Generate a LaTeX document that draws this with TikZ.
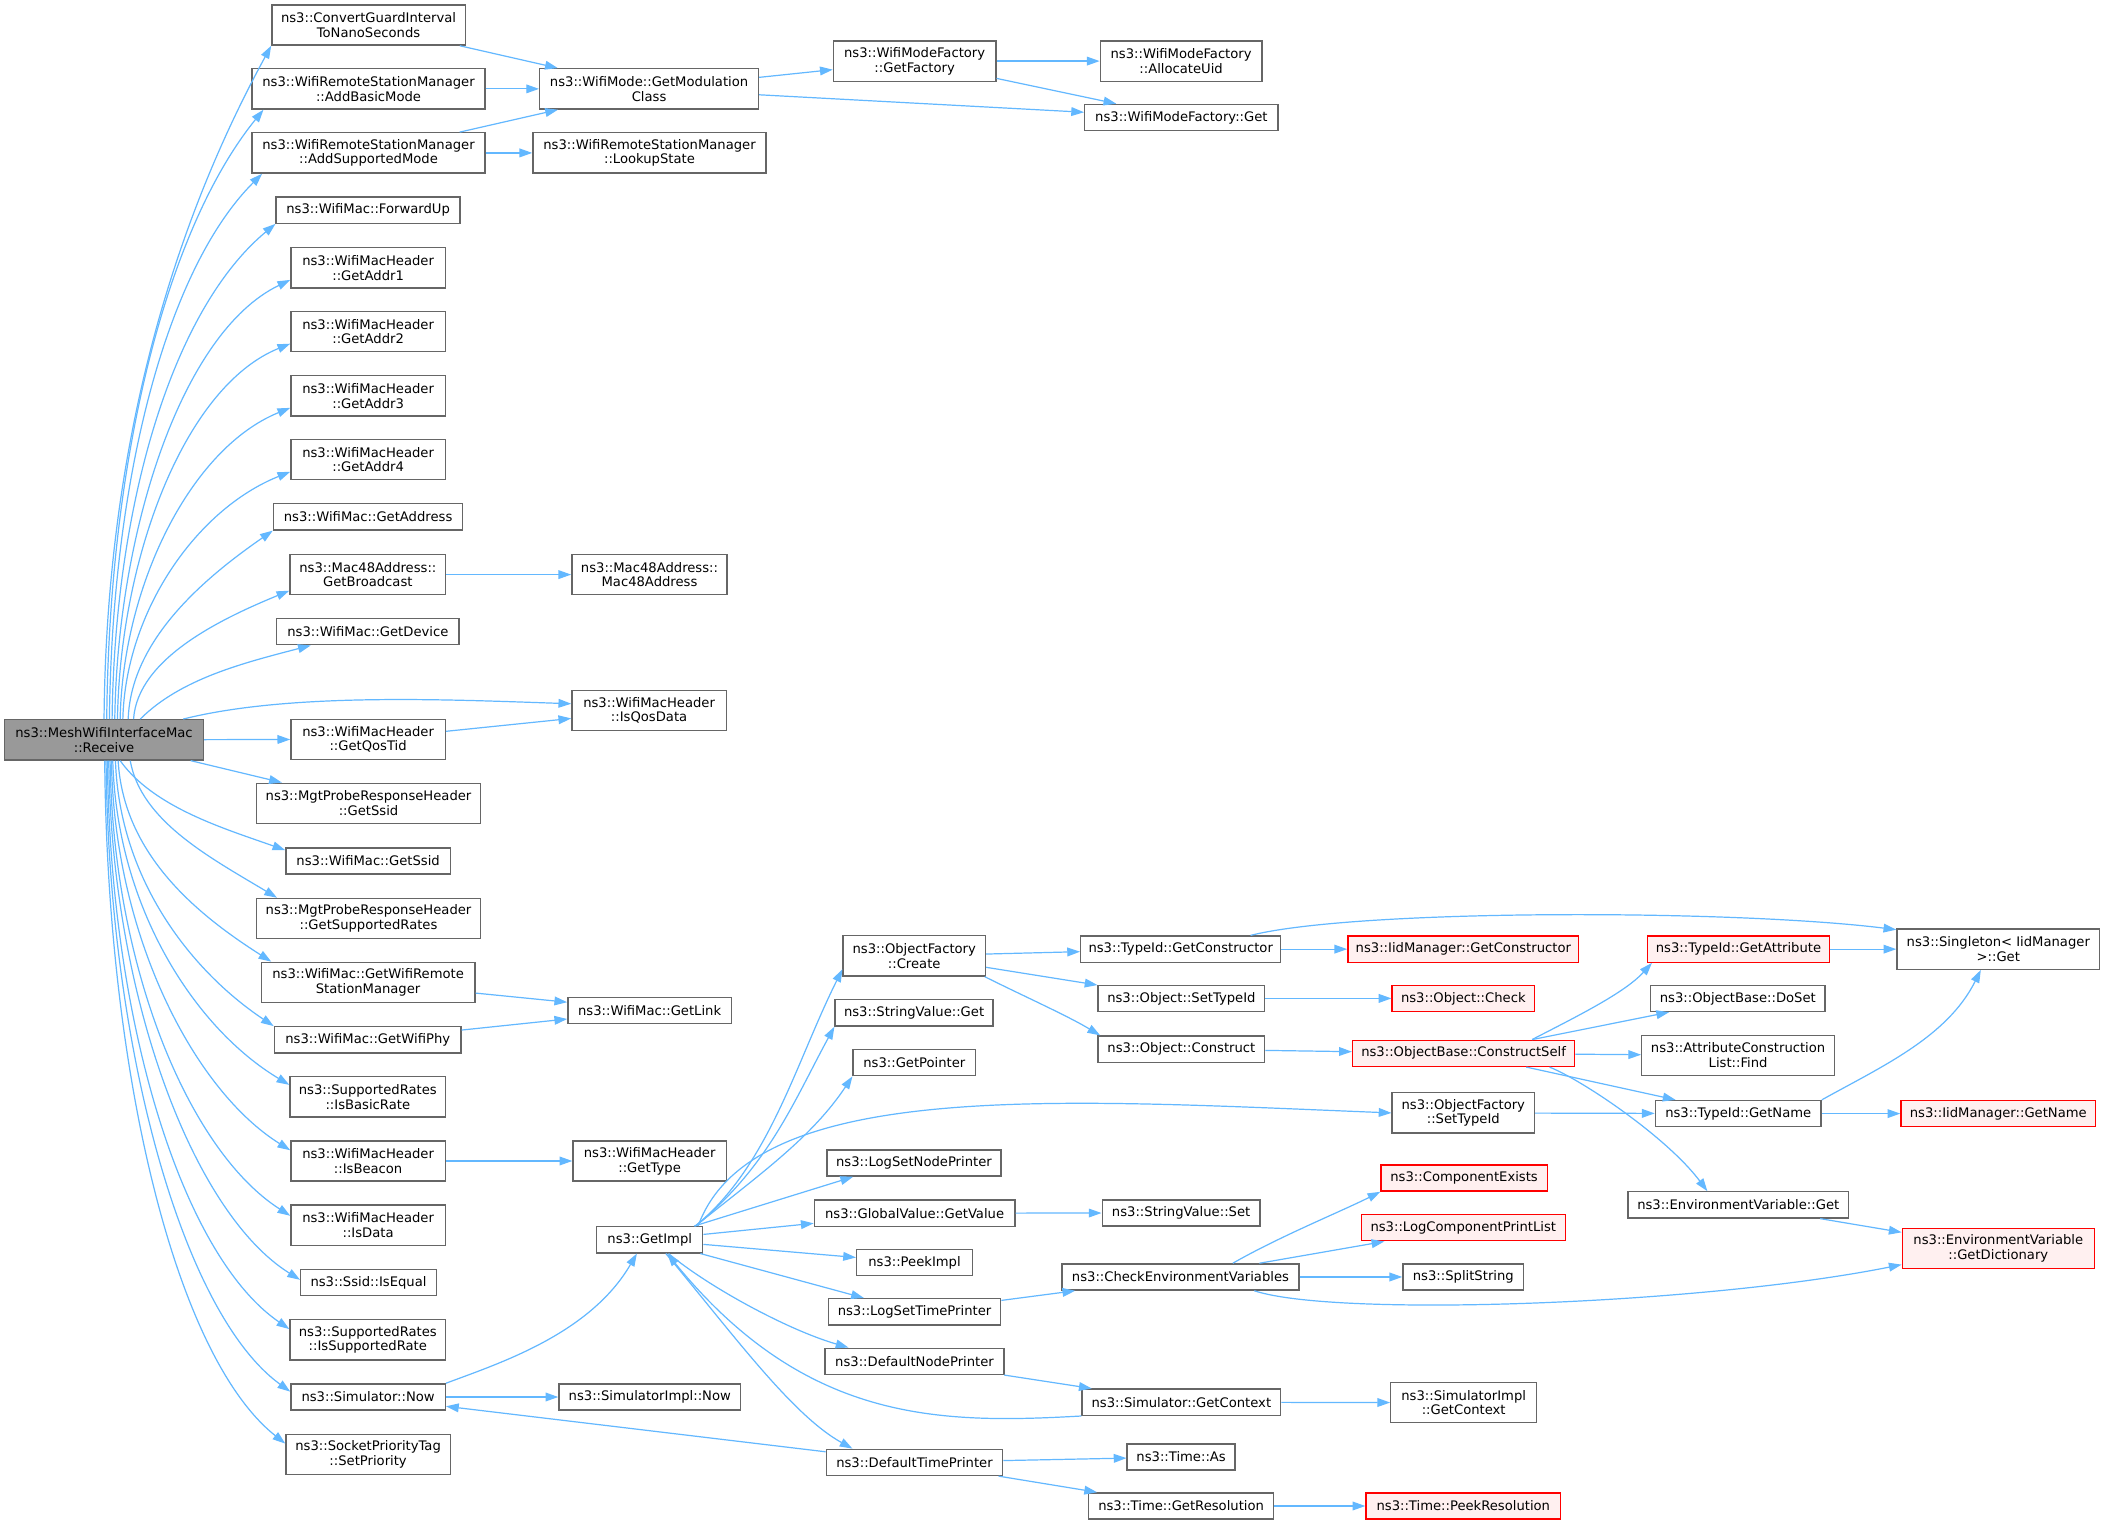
\documentclass[tikz,border=0pt]{standalone}
\usepackage{fontspec}
\setmainfont{DejaVu Sans}
\usetikzlibrary{arrows.meta}
\definecolor{edgeblue}{HTML}{63B8FF}
\definecolor{boxgray}{HTML}{666666}
\definecolor{rootgray}{HTML}{999999}
\definecolor{missfill}{HTML}{FFF0F0}
\begin{document}
\begin{tikzpicture}[x=1pt,y=1pt]
                \tikzstyle{every node}+=[inner sep=0pt]
                \tikzstyle{fn}=[draw=boxgray, fill=white, line width=1pt, align=center, font=\fontsize{9.8}{11}\selectfont, minimum height=19.5pt]
                \tikzstyle{fn2}=[fn, minimum height=30pt]
                \tikzstyle{root}=[fill=rootgray]
                \tikzstyle{nodoc}=[draw=red, fill=missfill]
                \tikzstyle{call}=[edgeblue, line width=0.9pt, -{Triangle[length=9.5pt,width=6.5pt]}]
                \fill [white] (0,0) rectangle (1568,-1136);
                \useasboundingbox (0,0) rectangle (1568,-1136);
                \node [fn2, root, minimum width=148pt] (rec) at (77.5,-551.1) {ns3::MeshWifiInterfaceMac\\::Receive};
                \node [fn2, minimum width=144pt] (cgi) at (274.5,-18.6) {ns3::ConvertGuardInterval\\ToNanoSeconds};
                \node [fn2, minimum width=173.5pt] (abm) at (274.5,-66.2) {ns3::WifiRemoteStationManager\\::AddBasicMode};
                \node [fn2, minimum width=173.5pt] (asm) at (274.5,-113.9) {ns3::WifiRemoteStationManager\\::AddSupportedMode};
                \node [fn, minimum width=137pt] (fwd) at (274.2,-156.5) {ns3::WifiMac::ForwardUp};
                \node [fn2, minimum width=115pt] (ad1) at (274.2,-199.5) {ns3::WifiMacHeader\\::GetAddr1};
                \node [fn2, minimum width=115pt] (ad2) at (274.2,-247) {ns3::WifiMacHeader\\::GetAddr2};
                \node [fn2, minimum width=115pt] (ad3) at (274.2,-294.8) {ns3::WifiMacHeader\\::GetAddr3};
                \node [fn2, minimum width=115pt] (ad4) at (274.2,-342.4) {ns3::WifiMacHeader\\::GetAddr4};
                \node [fn, minimum width=141pt] (gad) at (274.2,-385) {ns3::WifiMac::GetAddress};
                \node [fn2, minimum width=116pt] (gbc) at (274,-428) {ns3::Mac48Address::\\GetBroadcast};
                \node [fn, minimum width=136pt] (gdv) at (274,-470.5) {ns3::WifiMac::GetDevice};
                \node [fn2, minimum width=115pt] (gqt) at (274.2,-550.7) {ns3::WifiMacHeader\\::GetQosTid};
                \node [fn2, minimum width=167.3pt] (mss) at (274.5,-598.4) {ns3::MgtProbeResponseHeader\\::GetSsid};
                \node [fn, minimum width=122.4pt] (wss) at (274.2,-641.3) {ns3::WifiMac::GetSsid};
                \node [fn2, minimum width=167.3pt] (msr) at (274.5,-684.2) {ns3::MgtProbeResponseHeader\\::GetSupportedRates};
                \node [fn2, minimum width=159.3pt] (grm) at (274.2,-731.8) {ns3::WifiMac::GetWifiRemote\\StationManager};
                \node [fn, minimum width=139pt] (gwp) at (273.9,-774.6) {ns3::WifiMac::GetWifiPhy};
                \node [fn2, minimum width=116pt] (ibr) at (274,-817.1) {ns3::SupportedRates\\::IsBasicRate};
                \node [fn2, minimum width=115pt] (ibc) at (274.2,-864.8) {ns3::WifiMacHeader\\::IsBeacon};
                \node [fn2, minimum width=115pt] (idt) at (274.2,-912.6) {ns3::WifiMacHeader\\::IsData};
                \node [fn, minimum width=101pt] (ieq) at (274.5,-955.3) {ns3::Ssid::IsEqual};
                \node [fn2, minimum width=116pt] (isr) at (274,-998) {ns3::SupportedRates\\::IsSupportedRate};
                \node [fn, minimum width=115pt] (snw) at (274.2,-1040.6) {ns3::Simulator::Now};
                \node [fn2, minimum width=122.4pt] (spr) at (274.2,-1083.3) {ns3::SocketPriorityTag\\::SetPriority};
                \node [fn2, minimum width=163pt] (gmc) at (483.5,-66.2) {ns3::WifiMode::GetModulation\\Class};
                \node [fn2, minimum width=173.7pt] (lks) at (483.8,-113.9) {ns3::WifiRemoteStationManager\\::LookupState};
                \node [fn2, minimum width=115.7pt] (m48) at (483.8,-428) {ns3::Mac48Address::\\Mac48Address};
                \node [fn2, minimum width=115pt] (iqd) at (483.5,-529.2) {ns3::WifiMacHeader\\::IsQosData};
                \node [fn, minimum width=121.8pt] (gln) at (483.9,-752.6) {ns3::WifiMac::GetLink};
                \node [fn2, minimum width=114.2pt] (gty) at (483.9,-864.8) {ns3::WifiMacHeader\\::GetType};
                \node [fn, minimum width=79pt] (gim) at (484,-923.5) {ns3::GetImpl};
                \node [fn, minimum width=135.3pt] (sin) at (484,-1040.6) {ns3::SimulatorImpl::Now};
                \node [fn2, minimum width=121pt] (gfa) at (681.3,-45.5) {ns3::WifiModeFactory\\::GetFactory};
                \node [fn2, minimum width=106pt] (ocr) at (681,-712) {ns3::ObjectFactory\\::Create};
                \node [fn, minimum width=117.7pt] (svg) at (680.9,-754.5) {ns3::StringValue::Get};
                \node [fn, minimum width=91.2pt] (gpt) at (681.1,-791.5) {ns3::GetPointer};
                \node [fn, minimum width=129.6pt] (lsn) at (680.8,-866.3) {ns3::LogSetNodePrinter};
                \node [fn, minimum width=149.4pt] (ggv) at (681.3,-903.7) {ns3::GlobalValue::GetValue};
                \node [fn, minimum width=86.2pt] (pki) at (681.2,-940.4) {ns3::PeekImpl};
                \node [fn, minimum width=128.4pt] (lst) at (681.2,-977.1) {ns3::LogSetTimePrinter};
                \node [fn, minimum width=133.4pt] (dnp) at (681.2,-1014) {ns3::DefaultNodePrinter};
                \node [fn, minimum width=131.4pt] (dtp) at (681.2,-1089.3) {ns3::DefaultTimePrinter};
                \node [fn2, minimum width=120.4pt] (auid) at (879.8,-45.5) {ns3::WifiModeFactory\\::AllocateUid};
                \node [fn, minimum width=144pt] (wmg) at (880,-87.5) {ns3::WifiModeFactory::Get};
                \node [fn, minimum width=149pt] (tgc) at (879.5,-707) {ns3::TypeId::GetConstructor};
                \node [fn, minimum width=124pt] (ost) at (880,-743.7) {ns3::Object::SetTypeId};
                \node [fn, minimum width=124pt] (ocn) at (880,-781.5) {ns3::Object::Construct};
                \node [fn, minimum width=117.6pt] (ssv) at (879.8,-903.5) {ns3::StringValue::Set};
                \node [fn, minimum width=176.6pt] (cev) at (879.3,-951.2) {ns3::CheckEnvironmentVariables};
                \node [fn, minimum width=148pt] (sgc) at (880,-1044.5) {ns3::Simulator::GetContext};
                \node [fn, minimum width=80.4pt] (tas) at (879.8,-1085.3) {ns3::Time::As};
                \node [fn, minimum width=137.7pt] (tgr) at (879.8,-1121.8) {ns3::Time::GetResolution};
                \node [fn, nodoc, minimum width=172pt] (igc) at (1090,-707) {ns3::IidManager::GetConstructor};
                \node [fn, nodoc, minimum width=106pt] (och) at (1090,-743.7) {ns3::Object::Check};
                \node [fn, nodoc, minimum width=165.5pt] (bcs) at (1090.2,-784.6) {ns3::ObjectBase::ConstructSelf};
                \node [fn2, minimum width=106pt] (ofs) at (1090,-829) {ns3::ObjectFactory\\::SetTypeId};
                \node [fn, nodoc, minimum width=123.8pt] (cex) at (1090.6,-877.5) {ns3::ComponentExists};
                \node [fn, nodoc, minimum width=152pt] (lcp) at (1090,-914.5) {ns3::LogComponentPrintList};
                \node [fn, minimum width=90pt] (sps) at (1090,-951.2) {ns3::SplitString};
                \node [fn2, minimum width=108.6pt] (sic) at (1090.3,-1044.8) {ns3::SimulatorImpl\\::GetContext};
                \node [fn, nodoc, minimum width=145pt] (tpr) at (1090,-1121.8) {ns3::Time::PeekResolution};
                \node [fn, nodoc, minimum width=136pt] (tga) at (1295,-707) {ns3::TypeId::GetAttribute};
                \node [fn, minimum width=130pt] (dos) at (1294.5,-743.7) {ns3::ObjectBase::DoSet};
                \node [fn2, minimum width=143.5pt] (acf) at (1294.7,-786.2) {ns3::AttributeConstruction\\List::Find};
                \node [fn, minimum width=123.5pt] (tgn) at (1294.8,-829.5) {ns3::TypeId::GetName};
                \node [fn, minimum width=164.3pt] (evg) at (1294.8,-897.5) {ns3::EnvironmentVariable::Get};
                \node [fn2, minimum width=151pt] (sng) at (1488.5,-707) {ns3::Singleton< IidManager\\>::Get};
                \node [fn, nodoc, minimum width=145pt] (ign) at (1488.5,-829.5) {ns3::IidManager::GetName};
                \node [fn2, nodoc, minimum width=143pt] (gdc) at (1488.5,-930) {ns3::EnvironmentVariable\\::GetDictionary};
                \draw [call] (rec.north) .. controls +(2,230) and +(-60,-110) .. (cgi.south west);
                \draw [call] ([xshift=2pt]rec.north) .. controls +(2,205) and +(-69,-85) .. ([xshift=9pt]abm.south west);
                \draw [call] ([xshift=4pt]rec.north) .. controls +(2,180) and +(-71,-71) .. ([xshift=8pt]asm.south west);
                \draw [call] ([xshift=6pt]rec.north) .. controls +(2,160) and +(-77,-64) .. (fwd.south west);
                \draw [call] ([xshift=8pt]rec.north) .. controls +(2,140) and +(-81,-39) .. ([yshift=-9pt]ad1.west);
                \draw [call] ([xshift=10pt]rec.north) .. controls +(2,120) and +(-79,-32) .. ([yshift=-9pt]ad2.west);
                \draw [call] ([xshift=12pt]rec.north) .. controls +(2,100) and +(-74,-30) .. ([yshift=-9pt]ad3.west);
                \draw [call] ([xshift=14pt]rec.north) .. controls +(2,80) and +(-70,-28) .. ([yshift=-9pt]ad4.west);
                \draw [call] ([xshift=18pt]rec.north) .. controls +(2,60) and +(-49,-34) .. (gad.south west);
                \draw [call] ([xshift=22pt]rec.north) .. controls +(3,45) and +(-51,-21) .. ([yshift=-12pt]gbc.west);
                \draw [call] ([xshift=27pt]rec.north) .. controls +(30,30) and +(-50,-13) .. ([xshift=26pt]gdv.south west);
                \draw [call] ([xshift=59pt]rec.north) .. controls +(80,20) and +(-90,3) .. ([yshift=5pt]iqd.west);
                \draw [call] (rec) -- (gqt);
                \draw [call] (rec) -- (mss);
                \draw [call] ([xshift=12pt]rec.south) .. controls +(25,-35) and +(-45,16) .. ([yshift=8pt]wss.west);
                \draw [call] ([xshift=19.5pt]rec.south) .. controls +(8,-45) and +(-50,30) .. ([xshift=16pt]msr.north west);
                \draw [call] ([xshift=10.5pt]rec.south) .. controls +(4,-70) and +(-55,35) .. ([xshift=8pt]grm.north west);
                \draw [call] ([xshift=8.5pt]rec.south) .. controls +(3,-90) and +(-60,40) .. (gwp.north west);
                \draw [call] ([xshift=6.5pt]rec.south) .. controls +(3,-110) and +(-70,42) .. ([yshift=9pt]ibr.west);
                \draw [call] ([xshift=5.5pt]rec.south) .. controls +(2,-130) and +(-72,45) .. ([yshift=8pt]ibc.west);
                \draw [call] ([xshift=4.5pt]rec.south) .. controls +(2,-155) and +(-75,48) .. ([yshift=7pt]idt.west);
                \draw [call] ([xshift=3.5pt]rec.south) .. controls +(2,-175) and +(-80,50) .. ([yshift=2pt]ieq.west);
                \draw [call] ([xshift=2.5pt]rec.south) .. controls +(2,-195) and +(-80,55) .. ([yshift=8pt]isr.west);
                \draw [call] ([xshift=1.5pt]rec.south) .. controls +(2,-215) and +(-80,58) .. ([yshift=4pt]snw.west);
                \draw [call] ([xshift=0.5pt]rec.south) .. controls +(2,-234) and +(-82,65) .. ([yshift=8pt]spr.west);
                \draw [call] (cgi) -- (gmc);
                \draw [call] (abm) -- (gmc);
                \draw [call] (asm) -- (gmc);
                \draw [call] (asm) -- (lks);
                \draw [call] (gmc) -- (gfa);
                \draw [call] (gmc) -- (wmg);
                \draw [call] (gfa) -- (auid);
                \draw [call] (gfa) -- (wmg);
                \draw [call] (gbc) -- (m48);
                \draw [call] (gqt) -- (iqd);
                \draw [call] (grm) -- (gln);
                \draw [call] (gwp) -- (gln);
                \draw [call] (ibc) -- (gty);
                \draw [call] (snw) -- (sin);
                \draw [call] (snw.north east) .. controls +(40,15) and +(-35,-60) .. ([xshift=-9.6pt]gim.south);
                \draw [call] (dtp) -- (snw);
                \draw [call] ([xshift=-6pt]gim.north east) .. controls +(55,45) and +(-35,-70) .. ([yshift=-10pt]ocr.west);
                \draw [call] ([xshift=-6pt]gim.north east) .. controls +(55,45) and +(-30,-55) .. (svg.south west);
                \draw [call] ([xshift=-6pt]gim.north east) .. controls +(50,40) and +(-30,-45) .. (gpt.south west);
                \draw [call] ([xshift=-4pt]gim.north east) .. controls +(40,110) and +(-250,10) .. (ofs.west);
                \draw [call] (gim) -- ([xshift=20pt]lsn.south west);
                \draw [call] (gim) -- (ggv);
                \draw [call] (gim) -- (pki);
                \draw [call] (gim) -- (lst);
                \draw [call] ([xshift=14pt]gim.south) .. controls +(30,-25) and +(-45,13) .. ([xshift=18pt]dnp.north west);
                \draw [call] ([xshift=12pt]gim.south) .. controls +(50,-60) and +(-45,25) .. ([xshift=20pt]dtp.north west);
                \draw [call] (sgc.south west) .. controls +(-106,-6) and +(103,-126) .. ([xshift=13pt]gim.south);
                \draw [call] (ocr) -- (tgc);
                \draw [call] (ocr) -- (ost);
                \draw [call] ([xshift=-1pt]ocr.south east) .. controls +(30,-15) and +(-25,15) .. ([xshift=2pt]ocn.north west);
                \draw [call] (tgc) -- (igc);
                \draw [call] ([xshift=-23pt]tgc.north east) .. controls +(80,20) and +(-120,15) .. ([yshift=-1pt]sng.north west);
                \draw [call] (tga) -- (sng);
                \draw [call] (ost) -- (och);
                \draw [call] (ocn) -- (bcs);
                \draw [call] ([xshift=51pt]bcs.north) .. controls +(35,18) and +(-20,-22) .. ([xshift=4pt]tga.south west);
                \draw [call] (bcs) -- (dos);
                \draw [call] (bcs) -- (acf);
                \draw [call] (bcs) -- (tgn);
                \draw [call] ([xshift=64pt]bcs.south) .. controls +(25,-10) and +(-30,40) .. ([xshift=-23pt]evg.north);
                \draw [call] (ofs) -- (tgn);
                \draw [call] (tgn) -- (ign);
                \draw [call] (tgn.north east) .. controls +(45,25) and +(-25,-50) .. ([xshift=-13pt]sng.south);
                \draw [call] (evg) -- (gdc);
                \draw [call] (ggv) -- (ssv);
                \draw [call] (lst) -- (cev);
                \draw [call] ([xshift=39pt]cev.north) .. controls +(35,20) and +(-30,-15) .. (cex.south west);
                \draw [call] (cev) -- (lcp);
                \draw [call] (cev) -- (sps);
                \draw [call] ([xshift=55pt]cev.south) .. controls +(60,-20) and +(-150,-30) .. ([yshift=-12pt]gdc.west);
                \draw [call] (dnp) -- (sgc);
                \draw [call] (sgc) -- (sic);
                \draw [call] (dtp) -- (tas);
                \draw [call] (dtp) -- (tgr);
                \draw [call] (tgr) -- (tpr);
              \end{tikzpicture}
\end{document}
